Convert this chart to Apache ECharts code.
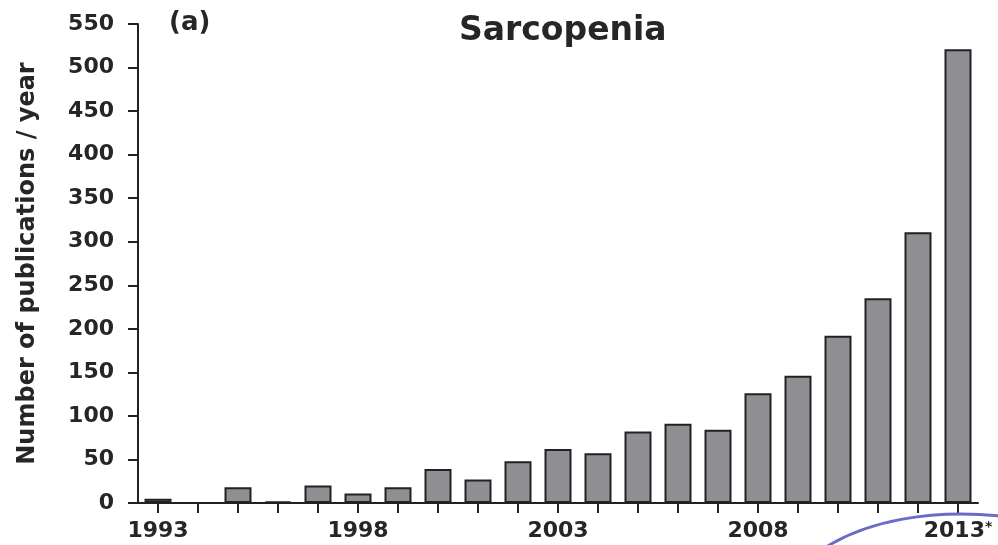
<!DOCTYPE html>
<html>
<head>
<meta charset="utf-8">
<script src="https://cdn.jsdelivr.net/npm/echarts@6/dist/echarts.min.js"></script>
<style>
html,body{margin:0;padding:0;background:#fff;}
#chart{width:998px;height:545px;}
</style>
</head>
<body>
<div id="chart"></div>
<script>
const years = ['1993','1994','1995','1996','1997','1998','1999','2000','2001','2002','2003','2004','2005','2006','2007','2008','2009','2010','2011','2012','2013*'];
const publications = [5,0,18,2,20,11,18,39,27,48,62,57,82,91,84,126,146,192,235,311,521];
const yTicks = {min:0, max:550, interval:50};
const titleText = 'Sarcopenia';
const panelText = '(a)';
const yAxisName = 'Number of publications / year';

const FONT = '"DejaVu Sans", sans-serif';
const TXT = '#262626';
const chart = echarts.init(document.getElementById('chart'), null, {renderer:'canvas'});
chart.setOption({
  animation:false,
  backgroundColor:'#ffffff',
  grid:{left:138, right:20, top:24, bottom:42, containLabel:false},
  xAxis:{
    type:'category',
    data:years,
    axisLine:{lineStyle:{color:'#222', width:2}},
    axisTick:{show:true, interval:0, alignWithLabel:true, length:10, lineStyle:{color:'#222', width:2}},
    axisLabel:{
      interval:4, margin:17, color:TXT, fontFamily:FONT, fontWeight:'bold', fontSize:22,
      formatter:function(v){
        if(v.indexOf('*')>=0){return '{n|'+v.replace('*','')+'}{s|*}';}
        return v;
      },
      rich:{
        n:{fontFamily:FONT, fontWeight:'bold', fontSize:22, color:TXT},
        s:{fontFamily:FONT, fontWeight:'bold', fontSize:14, color:TXT, verticalAlign:'top', padding:[0,0,8,0]}
      }
    }
  },
  yAxis:{
    type:'value',
    min:yTicks.min, max:yTicks.max, interval:yTicks.interval,
    name:yAxisName,
    nameLocation:'middle',
    nameRotate:90,
    nameGap:98,
    nameTextStyle:{color:TXT, fontFamily:FONT, fontWeight:'bold', fontSize:24},
    splitLine:{show:false},
    axisLine:{show:true, lineStyle:{color:'#222', width:2}},
    axisTick:{show:true, length:10, lineStyle:{color:'#222', width:2}},
    axisLabel:{margin:24, color:TXT, fontFamily:FONT, fontWeight:'bold', fontSize:22}
  },
  series:[{
    type:'bar',
    data:publications,
    barWidth:27,
    itemStyle:{color:'#8f8f93', borderColor:'#222', borderWidth:2}
  }],
  graphic:[
    {type:'text', left:169, top:10, style:{text:panelText, font:'bold 26px "DejaVu Sans", sans-serif', fill:TXT}},
    {type:'text', left:459, top:15, style:{text:titleText, font:'bold 33px "DejaVu Sans", sans-serif', fill:TXT}},
    {type:'bezierCurve', shape:{x1:826, y1:547, cpx1:868, cpy1:521, cpx2:930, cpy2:509, x2:1000, y2:516},
     style:{stroke:'#6c6cc6', lineWidth:3, fill:null}, z:100}
  ]
});
</script>
</body>
</html>
